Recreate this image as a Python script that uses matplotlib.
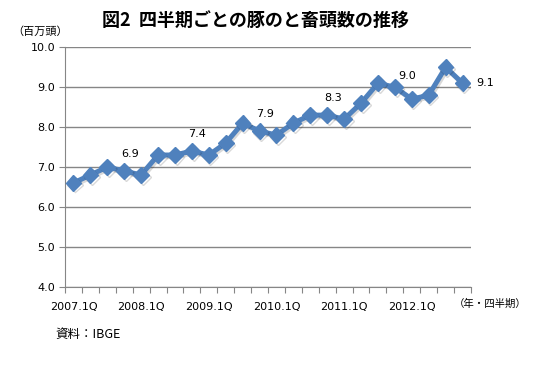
import matplotlib
matplotlib.use("Agg")
import matplotlib.pyplot as plt
import matplotlib.patheffects as pe

plt.rcParams['font.family'] = ['Noto Sans CJK JP', 'DejaVu Sans']

# quarterly hog herd, million head
quarters = [f"{y}.{q}Q" for y in range(2007, 2013) for q in range(1, 5)]
values = [6.6, 6.8, 7.0, 6.9,
          6.8, 7.3, 7.3, 7.4,
          7.3, 7.6, 8.1, 7.9,
          7.8, 8.1, 8.3, 8.3,
          8.2, 8.6, 9.1, 9.0,
          8.7, 8.8, 9.5, 9.1]
labelled = [3, 7, 11, 15, 19, 23]
yticks = [4.0, 5.0, 6.0, 7.0, 8.0, 9.0, 10.0]

blue = '#4F81BD'
grid_c = '#868686'

fig = plt.figure(figsize=(5.43, 3.67), dpi=100)
ax = fig.add_axes([65 / 543, 1 - 286.7 / 367, 406 / 543, 239.4 / 367])

x = [i + 0.5 for i in range(len(values))]
ax.plot(x, values, color=blue, lw=3.6, marker='D', ms=8, mec=blue, mfc=blue,
        solid_joinstyle='miter', zorder=3,
        path_effects=[pe.SimpleLineShadow(offset=(1.2, -1.2), shadow_color='black', alpha=0.15),
                      pe.Normal()])

for i in labelled:
    if i == len(values) - 1:
        off, ha = (10, 0), 'left'
    elif i == 19:
        off, ha = (9, 8), 'center'
    else:
        off, ha = (4, 12), 'center'
    ax.annotate(f"{values[i]:.1f}", (x[i], values[i]), xytext=off,
                textcoords='offset points', ha=ha, va='center', fontsize=8,
                family='DejaVu Sans')

ax.set_xlim(0, len(values))
ax.set_ylim(4, 10)
ax.set_yticks(yticks)
ax.set_yticklabels([f"{v:.1f}" for v in yticks], fontsize=8, family='DejaVu Sans')
ax.yaxis.grid(True, color=grid_c, lw=1)
ax.set_axisbelow(True)

ax.set_xticks(range(len(values) + 1))
ax.set_xticklabels([])
ax.set_xticks([i + 0.5 for i in range(0, len(values), 4)], minor=True)
ax.set_xticklabels([quarters[i] for i in range(0, len(values), 4)], minor=True,
                   fontsize=8, family='DejaVu Sans')
ax.tick_params(axis='x', which='major', length=4, color=grid_c, direction='out')
ax.tick_params(axis='x', which='minor', length=0, pad=11)
ax.tick_params(axis='y', length=4, color=grid_c, pad=3)

for s in ['top', 'right']:
    ax.spines[s].set_visible(False)
for s in ['left', 'bottom']:
    ax.spines[s].set_color(grid_c)

fig.text(255 / 543, 1 - 20 / 367, "図2  四半期ごとの豚のと畜頭数の推移", ha='center', va='center',
         fontsize=13, fontweight='bold')
fig.text(40 / 543, 1 - 32 / 367, "（百万頭）", ha='center', va='center', fontsize=8)
fig.text(490 / 543, 1 - 304 / 367, "（年・四半期）", ha='center', va='center', fontsize=7.5)
fig.text(55 / 543, 1 - 334 / 367, "資料：IBGE", ha='left', va='center', fontsize=9)

fig.savefig("out.png", dpi=100)
